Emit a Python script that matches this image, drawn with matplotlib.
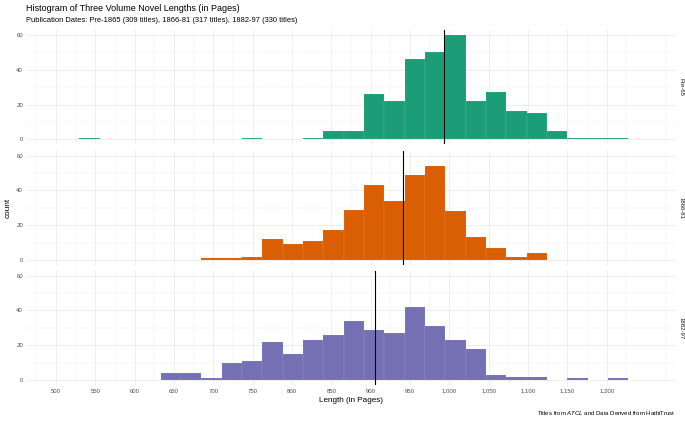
import numpy as np
import matplotlib
matplotlib.use('Agg')
import matplotlib.pyplot as plt
from matplotlib.ticker import FixedLocator, FuncFormatter

plt.rcParams['font.family'] = ['Liberation Sans', 'DejaVu Sans']
plt.rcParams['mathtext.fontset'] = 'custom'
plt.rcParams['mathtext.it'] = 'Liberation Sans:italic'
plt.rcParams['mathtext.rm'] = 'Liberation Sans'

# shared bins for all three periods (pages)
bin_start = 529.7
bin_width = 25.85
n_bins = 27

periods = ['Pre-65', '1866-81', '1882-97']
colors = ['#1B9E77', '#D95F02', '#7570B3']

counts_pre65 = [1, 0, 0, 0, 0, 0, 0, 0, 1, 0, 0, 1, 5, 5, 26, 22, 46, 50, 60,
                22, 27, 16, 15, 5, 1, 1, 1]
counts_1866 = [0, 0, 0, 0, 0, 0, 1, 1, 2, 12, 9, 11, 17, 29, 43, 34, 49, 54, 28,
               13, 7, 2, 4, 0, 0, 0, 0]
counts_1882 = [0, 0, 0, 0, 4, 4, 1, 10, 11, 22, 15, 23, 26, 34, 29, 27, 42, 31,
               23, 18, 3, 2, 2, 0, 1, 0, 1]
all_counts = [counts_pre65, counts_1866, counts_1882]

# median length per period
medians = [993.6, 941.5, 905.5]

x_major = np.arange(500, 1201, 50)
x_minor = np.arange(475, 1276, 50)
y_major = [0, 20, 40, 60]
y_minor = [10, 30, 50]

W, H = 685, 421
fig = plt.figure(figsize=(W / 100, H / 100), dpi=100)

left, right = 26.5, 675.5
panel_tops = [29.8, 150.5, 270.5]
panel_h = 114.7
edges = bin_start + bin_width * np.arange(n_bins)

axes = []
for i, (counts, col) in enumerate(zip(all_counts, colors)):
    top = panel_tops[i]
    ax = fig.add_axes([left / W, 1 - (top + panel_h) / H, (right - left) / W, panel_h / H])
    axes.append(ax)

    counts = np.array(counts)
    keep = counts > 0
    ax.bar(edges[keep], counts[keep], width=bin_width, align='edge',
           color=col, edgecolor=(1, 1, 1, 0.18), linewidth=0.35, zorder=2)
    ax.axvline(medians[i], color='black', linewidth=0.8, zorder=3)

    ax.set_xlim(462.5, 1287.5)
    ax.set_ylim(-3, 63)
    ax.xaxis.set_major_locator(FixedLocator(x_major))
    ax.xaxis.set_minor_locator(FixedLocator(x_minor))
    ax.yaxis.set_major_locator(FixedLocator(y_major))
    ax.yaxis.set_minor_locator(FixedLocator(y_minor))
    ax.grid(which='major', color='#EBEBEB', linewidth=0.6, zorder=0)
    ax.grid(which='minor', color='#F2F2F2', linewidth=0.35, zorder=0)
    ax.set_axisbelow(True)
    for s in ax.spines.values():
        s.set_visible(False)
    ax.tick_params(which='both', length=0, labelsize=4.3, colors='#4D4D4D', pad=2.5)
    ax.xaxis.set_major_formatter(FuncFormatter(lambda v, p: f'{int(v):,}'))
    if i < 2:
        ax.tick_params(axis='x', labelbottom=False)

    fig.text(681 / W, 1 - (top + panel_h / 2) / H, periods[i], rotation=-90,
             ha='center', va='center', fontsize=4.3, color='#1A1A1A')

fig.text(left / W, 1 - 8.5 / H, 'Histogram of Three Volume Novel Lengths (in Pages)',
         ha='left', va='center', fontsize=6.5, color='black')
fig.text(left / W, 1 - 20.5 / H,
         'Publication Dates: Pre-1865 (309 titles), 1866-81 (317 titles), 1882-97 (330 titles)',
         ha='left', va='center', fontsize=5.45, color='black')
fig.text(8 / W, 1 - (panel_tops[1] + panel_h / 2) / H, 'count', rotation=90,
         ha='center', va='center', fontsize=5.9)
fig.text((left + right) / 2 / W, 1 - 401 / H, 'Length (in Pages)',
         ha='center', va='center', fontsize=5.9)
fig.text(right / W, 1 - 413 / H,
         r'Titles from $\mathit{ATCL}$ and Data Derived from HathiTrust',
         ha='right', va='center', fontsize=4.3)

fig.savefig('out.png', dpi=100)
